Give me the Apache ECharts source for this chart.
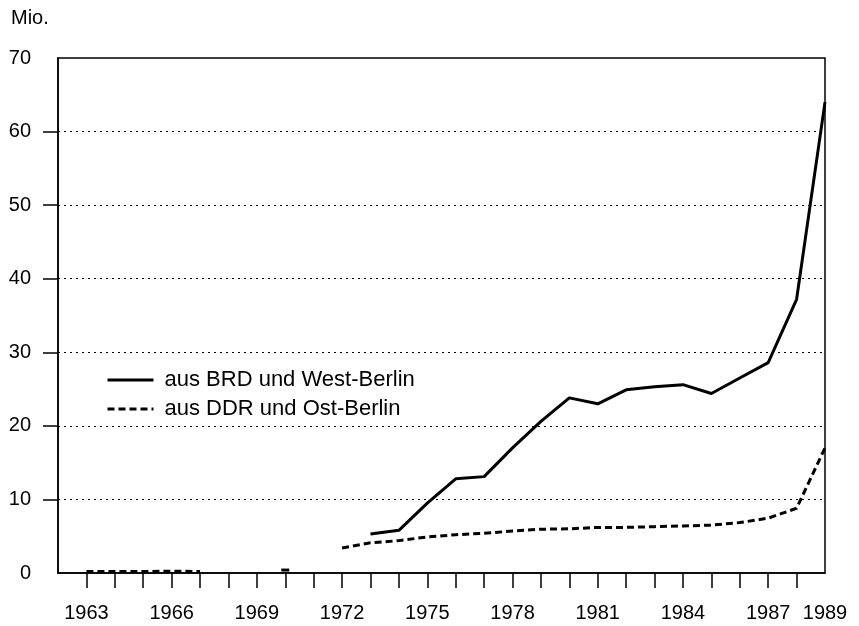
<!DOCTYPE html>
<html>
<head>
<meta charset="utf-8">
<script src="https://cdn.jsdelivr.net/npm/echarts@6/dist/echarts.min.js"></script>
<style>
  html, body { margin: 0; padding: 0; background: #fff; }
  #chart { width: 859px; height: 626px; }
</style>
</head>
<body>
<div id="chart"></div>
<script>
// Jahre 1963 - 1989, Werte in Mio.
var years = [1963, 1964, 1965, 1966, 1967, 1968, 1969, 1970, 1971, 1972, 1973, 1974, 1975,
             1976, 1977, 1978, 1979, 1980, 1981, 1982, 1983, 1984, 1985, 1986, 1987, 1988, 1989];
var brd = [null, null, null, null, null, null, null, null, null, null, 5.3, 5.8, 9.5,
           12.8, 13.1, 17.0, 20.6, 23.8, 23.0, 24.9, 25.3, 25.6, 24.4, 26.5, 28.6, 37.2, 64.0];
var ddr = [0.2, 0.2, 0.2, 0.25, 0.2, null, null, 0.4, null, 3.4, 4.1, 4.4, 4.9,
           5.2, 5.4, 5.7, 5.95, 6.0, 6.2, 6.2, 6.3, 6.4, 6.5, 6.85, 7.45, 8.8, 17.0];
var labelYears = [1963, 1966, 1969, 1972, 1975, 1978, 1981, 1984, 1987, 1989];
var tickYears = years.slice(0, years.length - 1);
var yTicks = [10, 20, 30, 40, 50, 60];
var seriesNames = ['aus BRD und West-Berlin', 'aus DDR und Ost-Berlin'];

var font = 'Liberation Sans, Arial, Helvetica, sans-serif';

function pairs(vals) {
  return years.map(function (y, i) {
    // einzelner Punkt (1970) als kurzer Strich
    var lone = vals[i] != null && (i === 0 || vals[i - 1] == null) && (i === vals.length - 1 || vals[i + 1] == null);
    if (lone) {
      return { value: [y, vals[i]], symbol: 'rect', symbolSize: [8, 3] };
    }
    return [y, vals[i]];
  });
}

var chart = echarts.init(document.getElementById('chart'));
chart.setOption({
  animation: false,
  backgroundColor: '#fff',
  title: {
    text: 'Mio.',
    left: 6,
    top: 3,
    textStyle: { fontFamily: font, fontSize: 20, fontWeight: 'normal', color: '#000' }
  },
  legend: {
    orient: 'vertical',
    left: 101,
    top: 364,
    itemWidth: 46,
    itemHeight: 14,
    itemGap: 7,
    data: seriesNames,
    itemStyle: { opacity: 0 },
    lineStyle: { width: 3 },
    textStyle: { fontFamily: font, fontSize: 22, color: '#000', padding: [0, 0, 0, 6] }
  },
  grid: {
    left: 58, right: 34, top: 58, bottom: 53,
    show: true, borderColor: '#000', borderWidth: 1.5
  },
  xAxis: {
    type: 'value',
    min: 1962,
    max: 1989,
    interval: 1,
    axisLine: { lineStyle: { color: '#000', width: 1.5 } },
    axisTick: { length: 15, customValues: tickYears, lineStyle: { color: '#000', width: 1.5 } },
    axisLabel: {
      margin: 30,
      fontFamily: font, fontSize: 20, color: '#000',
      showMaxLabel: true,
      customValues: labelYears,
      formatter: function (v) { return labelYears.indexOf(v) >= 0 ? String(v) : ''; }
    },
    splitLine: { show: false }
  },
  yAxis: {
    type: 'value',
    min: 0,
    max: 70,
    interval: 10,
    axisLine: { lineStyle: { color: '#000', width: 1.5 } },
    axisTick: { show: true, length: 15, customValues: yTicks, lineStyle: { color: '#000', width: 1.5 } },
    axisLabel: { margin: 27, fontFamily: font, fontSize: 20, color: '#000' },
    splitLine: { show: true, lineStyle: { color: '#000', width: 1.2, type: [2, 4] } }
  },
  series: [
    {
      name: seriesNames[0],
      type: 'line',
      symbol: 'none',
      data: pairs(brd),
      lineStyle: { color: '#000', width: 3 },
      itemStyle: { color: '#000' }
    },
    {
      name: seriesNames[1],
      type: 'line',
      symbol: 'none',
      data: pairs(ddr),
      lineStyle: { color: '#000', width: 3, type: [7, 4] },
      itemStyle: { color: '#000' }
    }
  ]
});
</script>
</body>
</html>
